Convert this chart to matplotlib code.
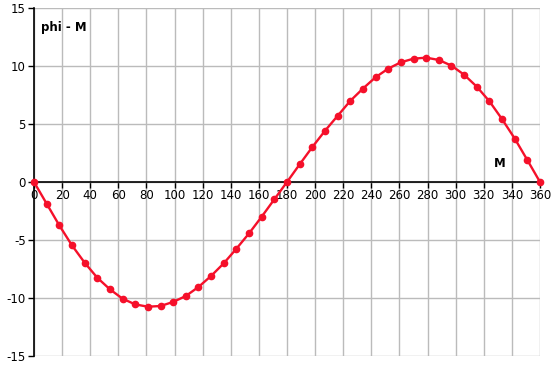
import matplotlib.pyplot as plt

plt.rcParams['axes.unicode_minus'] = False

# mean anomaly M (degrees) and phi - M (degrees)
M = [0, 9, 18, 27, 36, 45, 54, 63, 72, 81, 90, 99, 108, 117, 126, 135, 144, 153, 162, 171,
     180, 189, 198, 207, 216, 225, 234, 243, 252, 261, 270, 279, 288, 297, 306, 315, 324, 333,
     342, 351, 360]
phi_minus_M = [0, -1.87, -3.74, -5.46, -6.95, -8.25, -9.25, -10.06, -10.55, -10.75, -10.69,
               -10.34, -9.83, -9.05, -8.10, -7.01, -5.75, -4.43, -2.99, -1.49,
               0, 1.52, 3.01, 4.41, 5.70, 6.99, 8.05, 9.03, 9.77, 10.32, 10.63, 10.72,
               10.52, 10.03, 9.25, 8.22, 6.96, 5.42, 3.75, 1.89, 0]
x_ticks = list(range(0, 361, 20))
y_ticks = [-15, -10, -5, 0, 5, 10, 15]

fig = plt.figure(figsize=(5.56, 3.67), dpi=100)
ax = fig.add_axes([34 / 556, 11 / 367, 506 / 556, 348 / 367])

ax.plot(M, phi_minus_M, color='#f5102a', linewidth=1.7, marker='o', markersize=4.5,
        clip_on=False, zorder=5)

ax.set_xlim(0, 360)
ax.set_ylim(-15, 15)
ax.set_xticks(x_ticks)
ax.set_yticks(y_ticks)
ax.grid(True, color='#bbbbbb', linewidth=1)
ax.set_axisbelow(True)

ax.spines['top'].set_visible(False)
ax.spines['right'].set_visible(False)
ax.spines['bottom'].set_position(('data', 0))
ax.spines['left'].set_linewidth(1.2)
ax.spines['bottom'].set_linewidth(1.2)
ax.tick_params(axis='x', direction='out', length=4, width=1, labelsize=8.5, pad=1)
ax.tick_params(axis='y', direction='out', length=4, width=1, labelsize=8.5, pad=2)

ax.text(5, 13.3, 'phi - M', fontsize=8.5, fontweight='bold', ha='left', va='center')
ax.text(327, 1.6, 'M', fontsize=8.5, fontweight='bold', ha='left', va='center')

fig.savefig('out.png', dpi=100)
